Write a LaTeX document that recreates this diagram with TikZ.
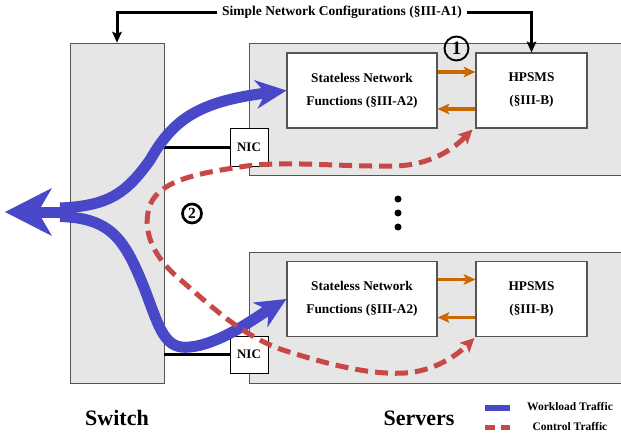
\documentclass[tikz,border=0pt]{standalone}
\usepackage{fontspec}
\setmainfont{Liberation Serif}
\usetikzlibrary{arrows.meta}
\definecolor{wlblue}{RGB}{72,72,200}
\definecolor{ctred}{RGB}{200,72,72}
\definecolor{orng}{RGB}{204,102,0}
\definecolor{boxgray}{RGB}{230,230,230}
\definecolor{edgegray}{RGB}{85,85,85}
\begin{document}
\begin{tikzpicture}[x=1pt,y=-1pt,
  grayarea/.style={draw=edgegray, line width=0.8pt, fill=boxgray, inner sep=0pt},
  fnbox/.style={draw=edgegray, line width=1.2pt, fill=white, minimum width=150pt, minimum height=75pt, align=center, inner sep=0pt, font=\bfseries\fontsize{13.3pt}{23pt}\selectfont},
  hpbox/.style={fnbox, minimum width=111pt},
  nicbox/.style={draw=black, line width=0.8pt, fill=white, minimum width=38pt, minimum height=38pt, inner sep=0pt, font=\bfseries\fontsize{13pt}{15pt}\selectfont},
  link/.style={line width=3pt, black},
  cfg/.style={line width=3pt, -{Stealth[length=11pt,width=10pt,inset=2pt,line width=0pt]}},
  orarrow/.style={orng, line width=3.5pt, -{Stealth[length=12pt,width=11pt,inset=3pt,line width=0pt]}},
  workload/.style={wlblue, line width=11pt},
  wlarrow/.style={workload, -{Stealth[length=31pt,width=29pt,inset=10pt,line width=0pt]}},
  control/.style={ctred, line width=5pt, dash pattern=on 13pt off 7pt},
  ctarrows/.style={control, {Stealth[length=14pt,width=14pt,inset=3pt,line width=0pt]}-{Stealth[length=14pt,width=14pt,inset=3pt,line width=0pt]}},
  big/.style={font=\bfseries\fontsize{22pt}{26pt}\selectfont},
  legend/.style={font=\bfseries\fontsize{11.5pt}{13pt}\selectfont},
  num/.style={circle, draw=black, inner sep=0pt},
  dot/.style={circle, fill=black, inner sep=0pt, minimum size=7pt}
]
\useasboundingbox (0,0) rectangle (621,434);

% grey areas
\node[grayarea, minimum width=94pt, minimum height=340pt] (sw) at (117,213) {};
\node[grayarea, minimum width=380pt, minimum height=132pt, anchor=north west] (srv1) at (249,43) {};
\node[grayarea, minimum width=380pt, minimum height=131pt, anchor=north west] (srv2) at (249,252) {};

% NICs and links
\node[nicbox] (nic1) at (249,147) {NIC};
\node[nicbox, minimum height=37pt] (nic2) at (249,354.5) {NIC};
\draw[link] (sw.east |- nic1.west) -- (nic1.west);
\draw[link] (sw.east |- nic2.west) -- (nic2.west);

% function boxes
\node[fnbox] (s1) at (362,90.5) {Stateless Network\\Functions (§III-A2)};
\node[hpbox] (h1) at (531.5,90.5) {HPSMS\\(§III-B)};
\node[fnbox] (s2) at (362,299) {Stateless Network\\Functions (§III-A2)};
\node[hpbox] (h2) at (531.5,299) {HPSMS\\(§III-B)};

\draw[orarrow] ([yshift=18.5pt]s1.east) -- ([yshift=18.5pt]h1.west);
\draw[orarrow] ([yshift=-18.5pt]h1.west) -- ([yshift=-18.5pt]s1.east);
\draw[orarrow] ([yshift=19.5pt]s2.east) -- ([yshift=19.5pt]h2.west);
\draw[orarrow] ([yshift=-18.5pt]h2.west) -- ([yshift=-18.5pt]s2.east);

% configuration label
\node[font=\bfseries\fontsize{13.5pt}{16pt}\selectfont, inner xsep=5pt, inner ysep=2pt] (cfgl) at (342,12) {Simple Network Configurations (§III-A1)};
\draw[cfg] (cfgl.west) -| (sw.north);
\draw[cfg] (cfgl.east) -| (h1.north);

% circled numbers
\node[num, line width=1.9pt, minimum size=24pt, font=\bfseries\fontsize{19pt}{19pt}\selectfont] (n1) at (456.5,48.5) {1};
\node[num, line width=2.7pt, minimum size=19pt, font=\bfseries\fontsize{15.5pt}{15.5pt}\selectfont] (n2) at (192,213.5) {2};

% dots
\node[dot] (d1) at (398,199) {};
\node[dot] (d2) at (398,213) {};
\node[dot] (d3) at (398,227) {};

% workload traffic
\coordinate (split) at (64,212);
\coordinate (lefttip) at (5,212);
\coordinate (topstart) at (60,208);
\coordinate (botstart) at (60,216.5);
\draw[workload, -{Stealth[length=47pt,width=48pt,inset=14pt,line width=0pt]}] (split) -- (lefttip);
\draw[wlarrow] (topstart) .. controls (110,206) and (127,192) .. (150,160) .. controls (172,122) and (195,102) .. (s1.west);
\draw[wlarrow] (botstart) .. controls (112,218) and (125,240) .. (145,290) .. controls (160,330) and (165,350) .. (190,347) .. controls (220,344) and (255,318) .. (s2.west);

% control traffic
\coordinate (t1) at ([xshift=-3pt,yshift=-1pt]h1.south west);
\coordinate (t2) at ([xshift=-1pt,yshift=-1pt]h2.south west);
\draw[ctarrows] (t1) .. controls (452,150) and (430,165) .. (395,166) .. controls (340,167) and (280,160) .. (240,167) .. controls (200,173) and (160,180) .. (150,205) .. controls (143,225) and (148,250) .. (175,275) .. controls (210,305) and (240,335) .. (283,350) .. controls (330,365) and (370,375) .. (405,373) .. controls (435,371) and (457,355) .. (t2);

% labels
\node[big, anchor=base] (swl) at (117,425) {Switch};
\node[big, anchor=base] (svl) at (419,425) {Servers};

% legend
\coordinate (lw1) at (485,408);
\coordinate (lw2) at (510,408);
\coordinate (lc1) at (485,427);
\coordinate (lc2) at (510,427);
\draw[wlblue, line width=6pt] (lw1) -- (lw2);
\draw[ctred, line width=5pt, dash pattern=on 9.5pt off 6pt] (lc1) -- (lc2);
\node[legend] (lwt) at (570,407) {Workload Traffic};
\node[legend] (lct) at (570,427) {Control Traffic};
\end{tikzpicture}
\end{document}
